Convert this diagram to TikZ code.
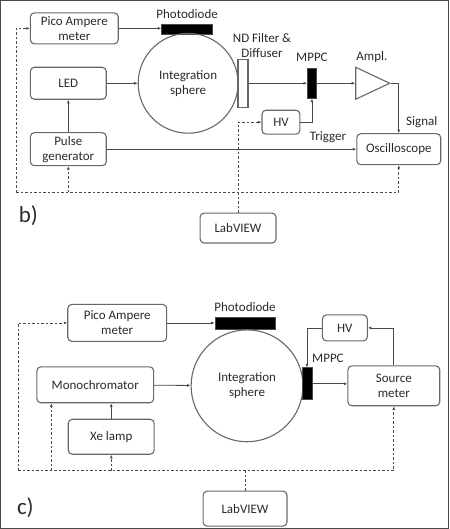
\documentclass[tikz,border=0pt]{standalone}
\usepackage{fontspec}
\setmainfont{Carlito}
\usepackage{tikz}
\usetikzlibrary{arrows.meta,shapes.geometric,positioning}
\definecolor{linegray}{HTML}{4A4A4A}
\definecolor{boxgray}{HTML}{686868}
\definecolor{textgray}{HTML}{2A2A2A}

\begin{document}
\begin{tikzpicture}
    [   x = 1pt, y = -1pt
    ,   box/.style=
        {   draw = boxgray
        ,   rounded corners = 4pt
        ,   line width = 1.1pt
        ,   inner sep = 0pt
        ,   align = center
        ,   text = textgray
        ,   font = \fontsize{13}{15}\selectfont
        }
    ,   lbl/.style=
        {   inner sep = 0pt
        ,   align = center
        ,   text = textgray
        ,   font = \fontsize{13}{15}\selectfont
        }
    ,   panel/.style = {lbl, font = \fontsize{23}{25}\selectfont}
    ,   sensor/.style = {draw, fill = black, inner sep = 0pt}
    ,   sphere/.style =
        {   draw = boxgray
        ,   circle
        ,   line width = 1.1pt
        ,   inner sep = 0pt
        ,   align = center
        ,   text = textgray
        ,   font = \fontsize{13}{15}\selectfont
        }
    ,   amp/.style =
        {   draw = boxgray
        ,   isosceles triangle
        ,   isosceles triangle stretches
        ,   line width = 1.1pt
        ,   inner sep = 0pt
        }
    ,   every path/.style = {draw = linegray, line width = 0.8pt}
    ,   ctrl/.style = {dash pattern = on 2.5pt off 2pt}
    ,   > = {Latex[length=3.5pt,width=3pt]}
    ]
    \useasboundingbox (0,0) rectangle (449,529);

    % b) pulsed LED set-up
    \node[box, minimum width=88, minimum height=31] (picob) at (74,28) {Pico Ampere\\meter};
    \node[sensor, minimum width=51, minimum height=10] (pdb) at (187,29) {};
    \node[lbl, above=5pt of pdb] (pdlblb) {Photodiode};
    \node[sphere, minimum size=100] (sphb) at (188,83) {Integration\\sphere};
    \node[box, minimum width=76, minimum height=32] (ledb) at (68,83) {LED};
    \node[box, minimum width=76, minimum height=33] (pulseb) at (68,149) {Pulse\\generator};
    \node[box, minimum width=84, minimum height=31] (oscb) at (399,149) {Oscilloscope};
    \node[draw=boxgray, fill=white, line width=1.1pt, minimum width=10, minimum height=48, inner sep=0pt] (filtb) at (243,83) {};
    \node[lbl] (filtlblb) at (262,45) {ND Filter \&\\Diffuser};
    \node[sensor, minimum width=9, minimum height=30] (mppcb) at (312,83) {};
    \node[lbl] (mppclblb) at (312,57) {MPPC};
    \node[amp, minimum width=32, minimum height=34] (amplb) at (366,83) {};
    \node[lbl] (ampllblb) at (372,57) {Ampl.};
    \node[box, minimum width=38, minimum height=24] (hvb) at (281,122) {HV};
    \node[box, minimum width=76, minimum height=30] (labb) at (238,228) {LabVIEW};
    \node[lbl] (trigb) at (328,137) {Trigger};
    \node[lbl] (sigb) at (422,122) {Signal};
    \node[panel] (panelb) at (28,216) {b)};
    \coordinate (busb) at (16,192);

    \draw[->] (picob.east) -- (picob.east -| pdb.west);
    \draw[->] (ledb) -- (sphb);
    \draw[->] (pulseb) -- (ledb);
    \draw[->] (pulseb) -- (oscb);
    \draw[->] (filtb) -- (mppcb);
    \draw[->] (mppcb) -- (amplb);
    \draw[->] (amplb.apex) -| (oscb.north);
    \draw[->] (hvb.east) -| (mppcb.south);
    \draw[ctrl,->] (labb.north) |- (hvb.west);
    \draw[ctrl,->] (busb) |- (picob.west);
    \draw[ctrl,->] (busb) -| (oscb.south);
    \draw[ctrl,->] (busb -| pulseb) -- (pulseb.south);

    % c) monochromator set-up
    \node[box, minimum width=99, minimum height=37] (picoc) at (117,323) {Pico Ampere\\meter};
    \node[sensor, minimum width=60, minimum height=12] (pdc) at (245,323) {};
    \node[lbl, above=5pt of pdc] (pdlblc) {Photodiode};
    \node[sphere, minimum size=112] (sphc) at (247,386) {Integration\\sphere};
    \node[box, minimum width=117, minimum height=36] (monoc) at (95,385) {Monochromator};
    \node[box, minimum width=86, minimum height=35] (xec) at (111,437) {Xe lamp};
    \node[sensor, minimum width=10, minimum height=32] (mppcc) at (307,384) {};
    \node[lbl] (mppclblc) at (328,358) {MPPC};
    \node[box, minimum width=45, minimum height=26] (hvc) at (345,328) {HV};
    \node[box, minimum width=92, minimum height=40] (srcc) at (394,386) {Source\\meter};
    \node[box, minimum width=84, minimum height=35] (labc) at (245,509) {LabVIEW};
    \node[panel] (panelc) at (25,508) {c)};
    \coordinate (busc) at (18,471);
    \coordinate (monotap) at (51,471);

    \draw[->] (picoc.east) -- (picoc.east -| pdc.west);
    \draw[->] (monoc) -- (sphc);
    \draw[->] (xec.north) -- (xec.north |- monoc.south);
    \draw[->] (mppcc.east) -- (mppcc.east -| srcc.west);
    \draw[->] (hvc.west) -| (mppcc.north);
    \draw[->] (srcc.north) |- (hvc.east);
    \draw[ctrl,->] (busc) |- (picoc.west);
    \draw[ctrl,->] (busc) -| (srcc.south);
    \draw[ctrl,->] (monotap) -- (monotap |- monoc.south);
    \draw[ctrl,->] (busc -| xec) -- (xec.south);
    \draw[ctrl] (labc.north) -- (labc.north |- busc);
\end{tikzpicture}
\end{document}
